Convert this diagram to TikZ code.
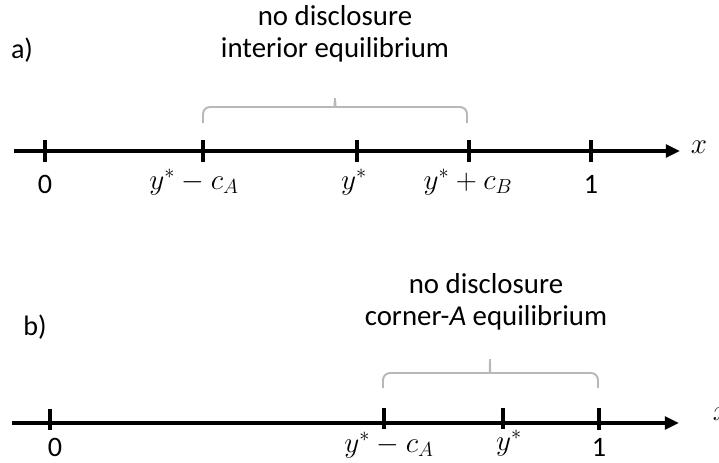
\documentclass[tikz,border=0pt]{standalone}
\usepackage{fontspec}
\setmainfont{Carlito}
\usetikzlibrary{arrows.meta}
\tikzset{
  axis/.style={line width=2.2pt, -{Triangle[length=10pt,width=9pt]}},
  tick/.style={line width=2.2pt},
  brace/.style={black!28, line width=1.4pt, rounded corners=5pt},
  lbl/.style={font=\fontsize{20}{22}\selectfont, anchor=base, inner sep=0pt},
  title/.style={font=\fontsize{20.5}{23}\selectfont, align=center, inner sep=0pt},
}
\begin{document}
\begin{tikzpicture}[x=0.025cm, y=-0.025cm]
  \useasboundingbox (0,0) rectangle (719,462);
  % panel a)
  \node[lbl] (pa) at (22,58) {a)};
  \node[title] (ta) at (335,34) {no disclosure\\interior equilibrium};
  \coordinate (As) at (14,151);
  \coordinate (Ae) at (680,151);
  \coordinate (A0) at (45,151);
  \coordinate (A1) at (203,151);
  \coordinate (A2) at (357,151);
  \coordinate (A3) at (469,151);
  \coordinate (A4) at (591,151);
  \draw[axis] (As) -- (Ae);
  \draw[tick] (A0) ++(0,-11) -- ++(0,22);
  \draw[tick] (A1) ++(0,-11) -- ++(0,22);
  \draw[tick] (A2) ++(0,-11) -- ++(0,22);
  \draw[tick] (A3) ++(0,-11) -- ++(0,22);
  \draw[tick] (A4) ++(0,-11) -- ++(0,22);
  \node[lbl] (A0l) at (45,193) {0};
  \node[lbl] (A1l) at (194,189) {$y^{*}-c_{A}$};
  \node[lbl] (A2l) at (354,189) {$y^{*}$};
  \node[lbl] (A3l) at (468,189) {$y^{*}+c_{B}$};
  \node[lbl] (A4l) at (591,193) {1};
  \node[lbl] (Ax) at (699,153) {$x$};
  \draw[brace] (203,123) -- (203,107) -- (328,107) to[out=0,in=-90] (335,94)
    to[out=-90,in=180] (342,107) -- (467,107) -- (467,123);
  % panel b)
  \node[lbl] (pb) at (35,335) {b)};
  \node[title] (tb) at (486,302) {no disclosure\\corner-\textit{A} equilibrium};
  \coordinate (Bs) at (12,423);
  \coordinate (Be) at (679,423);
  \coordinate (B0) at (50,423);
  \coordinate (B1) at (384,423);
  \coordinate (B2) at (503,423);
  \coordinate (B3) at (599,423);
  \draw[axis] (Bs) -- (Be);
  \draw[tick] (B0) ++(0,-14) -- ++(0,21);
  \draw[tick] (B1) ++(0,-15) -- ++(0,21);
  \draw[tick] (B2) ++(0,-15) -- ++(0,21);
  \draw[tick] (B3) ++(0,-15) -- ++(0,22);
  \node[lbl] (B0l) at (55,456) {0};
  \node[lbl] (B1l) at (389,452) {$y^{*}-c_{A}$};
  \node[lbl] (B2l) at (509,450) {$y^{*}$};
  \node[lbl] (B3l) at (599,456) {1};
  \node[lbl] (Bx) at (721,420) {$x$};
  \draw[brace] (383,388) -- (383,373) -- (483,373) to[out=0,in=-90] (490,355)
    to[out=-90,in=180] (497,373) -- (598,373) -- (598,388);
\end{tikzpicture}
\end{document}
